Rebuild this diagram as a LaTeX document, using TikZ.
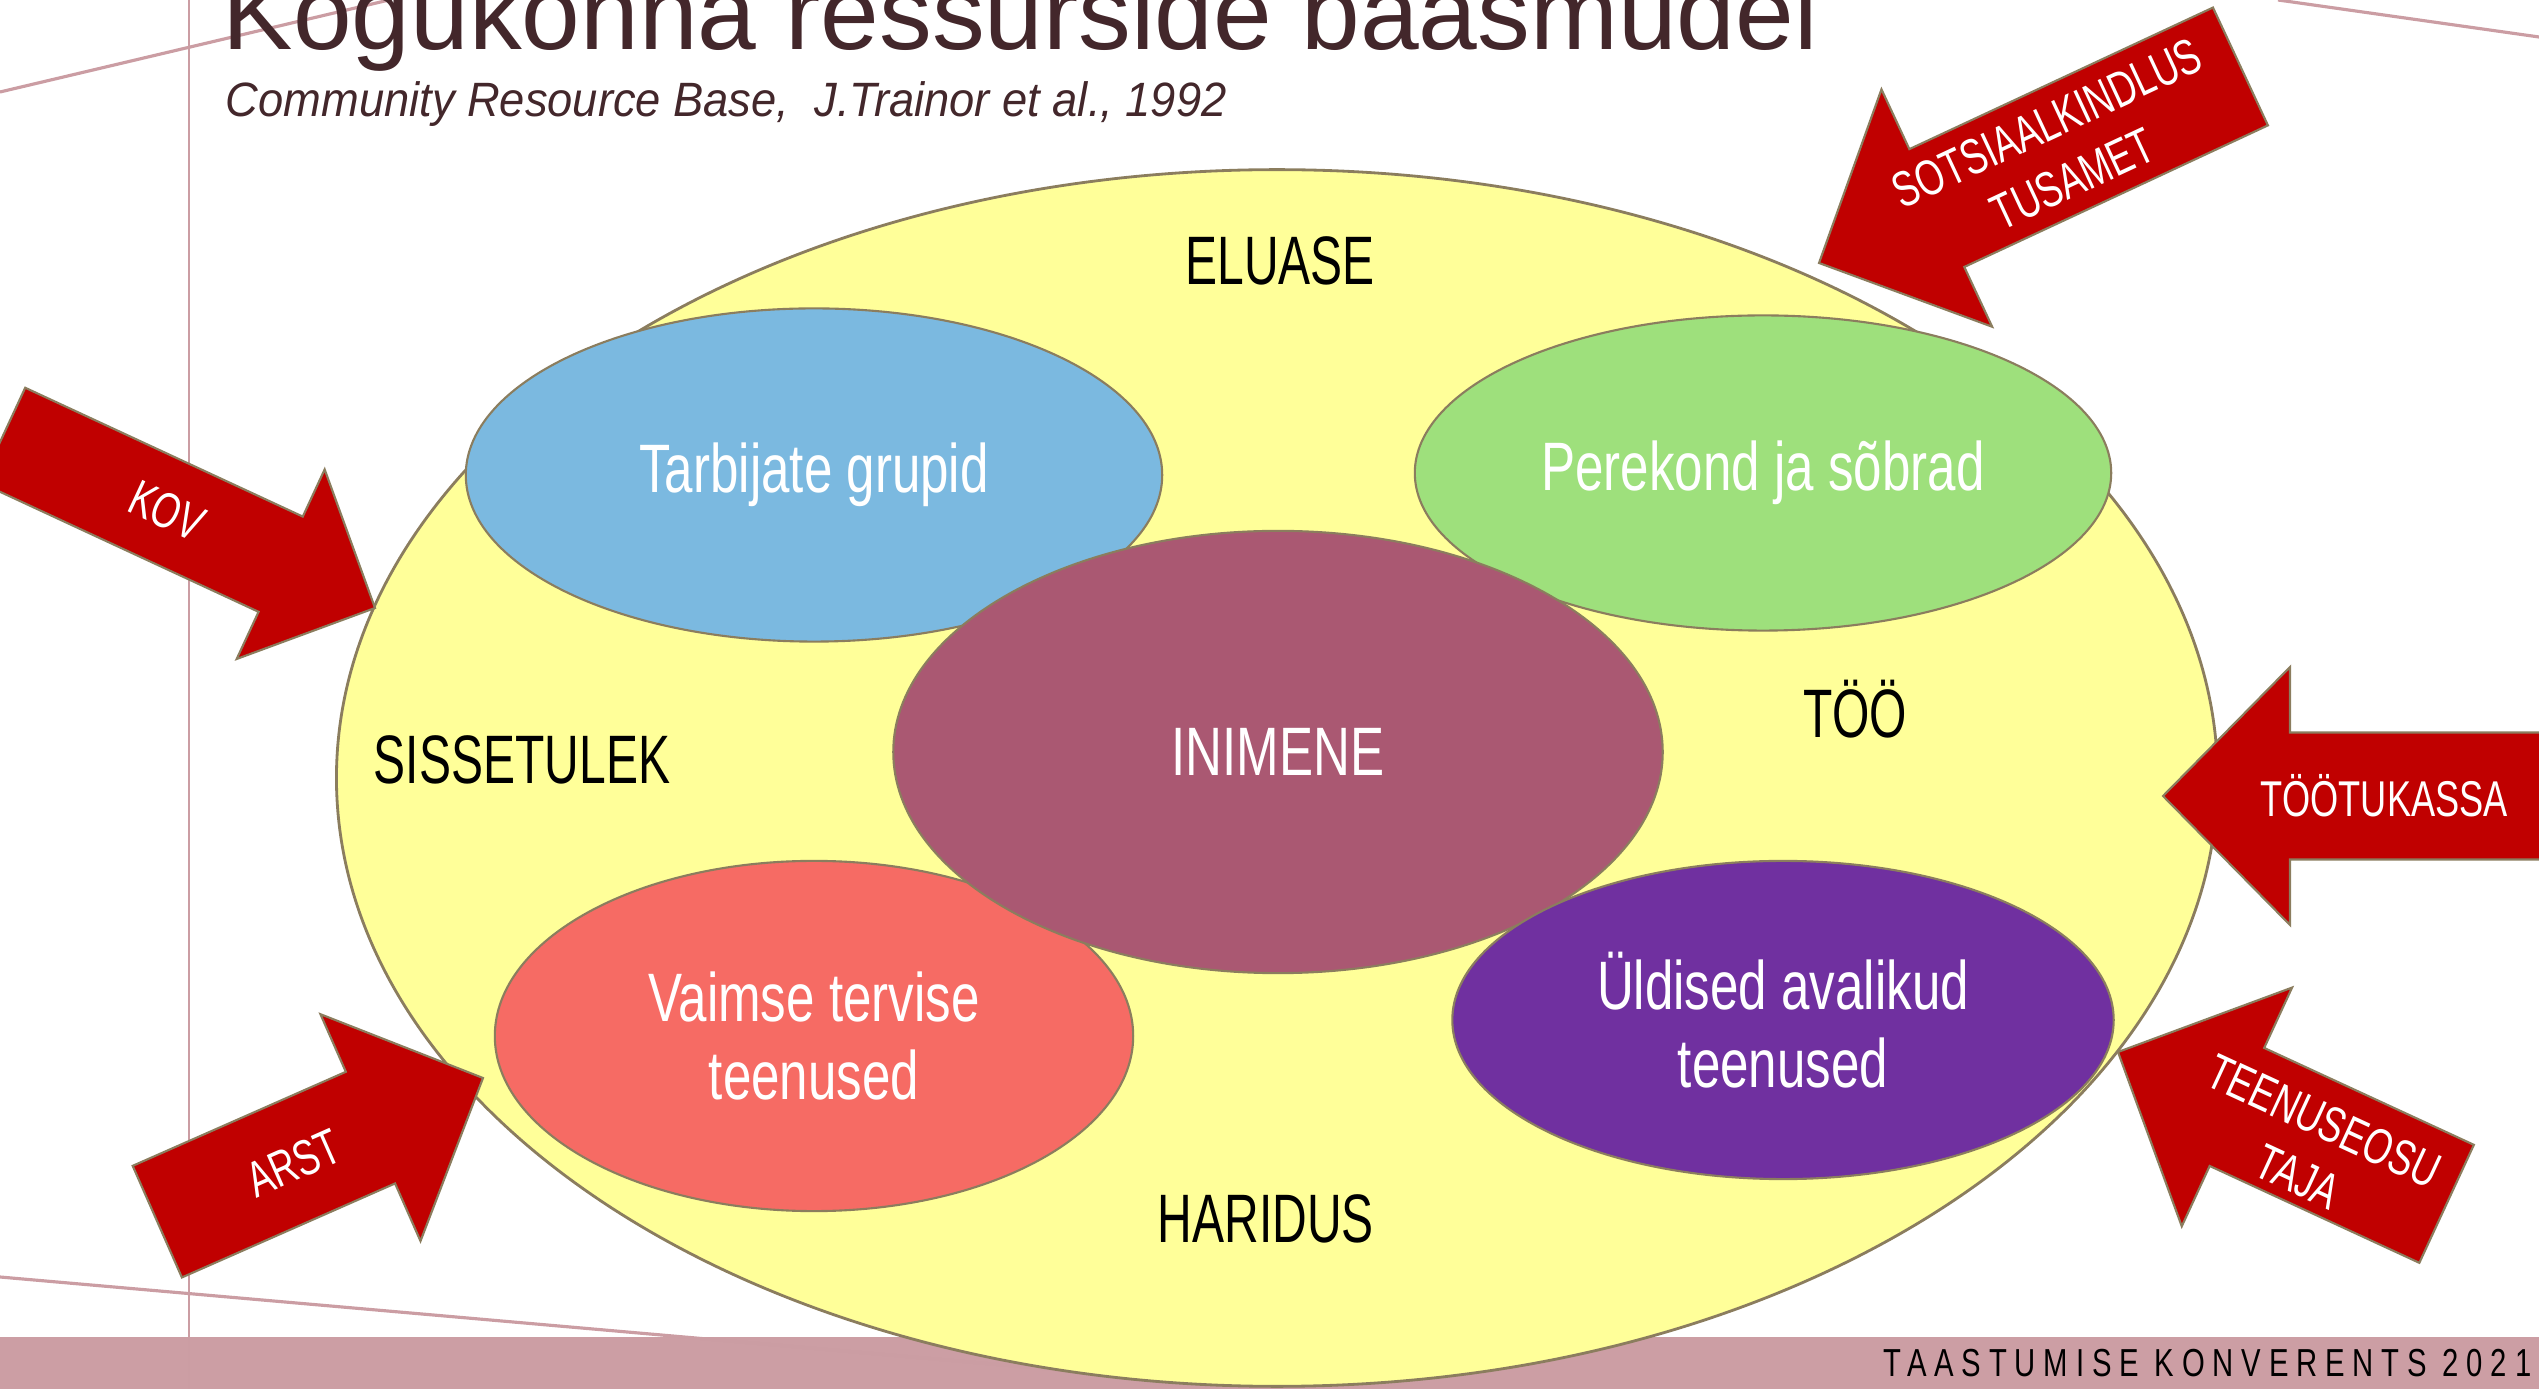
\documentclass[tikz,border=0pt]{standalone}
\usepackage{fontspec}
\setmainfont{Liberation Sans}
\newfontfamily\condfont{Liberation Sans}[FakeStretch=0.72]
\newfontfamily\ovalfont{Liberation Sans}[FakeStretch=0.745]
\newfontfamily\areafont{Liberation Sans}[FakeStretch=0.70]
\newfontfamily\titlefont{Liberation Sans}
\newfontfamily\subfont{Liberation Sans}[FakeStretch=0.94]
\newfontfamily\footfont{Liberation Sans}[FakeStretch=0.75,LetterSpace=20]
\usepackage{tikz}
\usetikzlibrary{shapes}
\usetikzlibrary{positioning}

\definecolor{arrowred}{HTML}{C00000}
\definecolor{edgebrown}{HTML}{8B7D5E}
\definecolor{ovalyellow}{HTML}{FFFF99}
\definecolor{ovalblue}{HTML}{7BB9E0}
\definecolor{ovalgreen}{HTML}{9EE07C}
\definecolor{ovalrose}{HTML}{AA5872}
\definecolor{ovalsalmon}{HTML}{F66B64}
\definecolor{ovalpurple}{HTML}{7030A0}
\definecolor{linepink}{HTML}{CB9DA3}
\definecolor{bandpink}{HTML}{CC9EA4}
\definecolor{titlebrown}{HTML}{43272B}

\tikzset{
    baseoval/.style = {ellipse, draw=edgebrown, line width=0.8pt, fill=ovalyellow, inner sep=0pt, minimum width=18.80cm, minimum height=12.16cm},
    oval/.style = {ellipse, draw=edgebrown, line width=0.6pt, inner sep=0pt, align=center, text=white, font=\ovalfont\fontsize{19.5}{22}\selectfont},
    areatext/.style = {anchor=base, inner sep=0pt, text=black, font=\areafont\fontsize{19.5}{22}\selectfont},
    arrowbody/.style = {fill=arrowred, draw=edgebrown, line width=0.6pt},
    arrowtext/.style = {inner sep=0pt, align=center, text=white, font=\condfont\fontsize{14.3}{17.5}\selectfont},
    decoline/.style = {draw=linepink, line width=0.9pt},
}

\begin{document}
\begin{tikzpicture}[x=0.01cm, y=-0.01cm]
\useasboundingbox (0,0) rectangle (2539,1389);
\clip (0,0) rectangle (2539,1389);
%
\fill[bandpink] (0,1337) rectangle (2539,1389);
\draw[decoline] (0,92) -- (389,0);
\draw[decoline] (2278,0) -- (2539,37);
\draw[decoline] (0,1277) -- (1300,1391);
\draw[decoline, line width=0.6pt] (189,0) -- (189,1389);
%
\node[baseoval] (base) at (1277,778) {};
\node[oval, fill=ovalblue, minimum width=6.96cm, minimum height=3.33cm] (groups) at (814,475) {Tarbijate grupid};
\node[oval, fill=ovalgreen, minimum width=6.96cm, minimum height=3.15cm] (family) at (1763,473) {Perekond ja sõbrad};
\node[oval, fill=ovalsalmon, minimum width=6.38cm, minimum height=3.50cm] (mental) at (814,1036) {Vaimse tervise\\teenused};
\node[oval, fill=ovalrose, minimum width=7.69cm, minimum height=4.42cm] (person) at (1278,752) {INIMENE};
\node[oval, fill=ovalpurple, minimum width=6.61cm, minimum height=3.18cm] (public) at (1783,1020) {Üldised avalikud\\teenused};
%
\node[areatext] (housing) at (1280,285) {ELUASE};
\node[areatext] (income) at (522,784) {SISSETULEK};
\node[areatext] (work) at (1855,738) {TÖÖ};
\node[areatext] (school) at (1266,1242) {HARIDUS};
%
\begin{scope}[shift={(375,608)}, rotate=-24.9]
\draw[arrowbody] (0,0) -- (-104,104.5) -- (-104,52.5) -- (-410,52.5) -- (-410,-52.5) -- (-104,-52.5) -- (-104,-104.5) -- cycle;
\end{scope}
\node[arrowtext, rotate=-24.9] (kov) at (167,511) {KOV};

\begin{scope}[shift={(483,1078)}, rotate=23.8]
\draw[arrowbody] (0,0) -- (-123,124) -- (-123,61) -- (-356,61) -- (-356,-61) -- (-123,-61) -- (-123,-124) -- cycle;
\end{scope}
\node[arrowtext, rotate=23.8] (doctor) at (294,1163) {ARST};

\begin{scope}[shift={(1819,263)}, rotate=205]
\draw[arrowbody] (0,0) -- (-130,131) -- (-130,65) -- (-465,65) -- (-465,-65) -- (-130,-65) -- (-130,-131) -- cycle;
\end{scope}
\node[arrowtext, rotate=25] (social) at (2060,151) {SOTSIAALKINDLUS\\TUSAMET};

\begin{scope}[shift={(2163,796)}, rotate=180]
\draw[arrowbody] (0,0) -- (-127,129) -- (-127,63.5) -- (-500,63.5) -- (-500,-63.5) -- (-127,-63.5) -- (-127,-129) -- cycle;
\end{scope}
\node[arrowtext] (jobs) at (2384,796) {TÖÖTUKASSA};

\begin{scope}[shift={(2118,1052)}, rotate=155.2]
\draw[arrowbody] (0,0) -- (-131,131.5) -- (-131,65) -- (-362,65) -- (-362,-65) -- (-131,-65) -- (-131,-131.5) -- cycle;
\end{scope}
\node[arrowtext, rotate=-24.8] (provider) at (2311,1149) {TEENUSEOSU\\TAJA};
%
\node[anchor=base west, inner sep=0pt, text=titlebrown, font=\titlefont\fontsize{30}{32}\selectfont] (title) at (222,50) {Kogukonna ressurside baasmudel};
\node[anchor=base west, inner sep=0pt, text=titlebrown, font=\subfont\itshape\fontsize{13.7}{16}\selectfont] (source) at (225,117) {Community Resource Base,\ \ J.Trainor et al., 1992};
\node[anchor=base east, inner sep=0pt, text=black, font=\footfont\fontsize{11.1}{13}\selectfont] (event) at (2532,1376) {TAASTUMISE KONVERENTS 2021};
\end{tikzpicture}
\end{document}
